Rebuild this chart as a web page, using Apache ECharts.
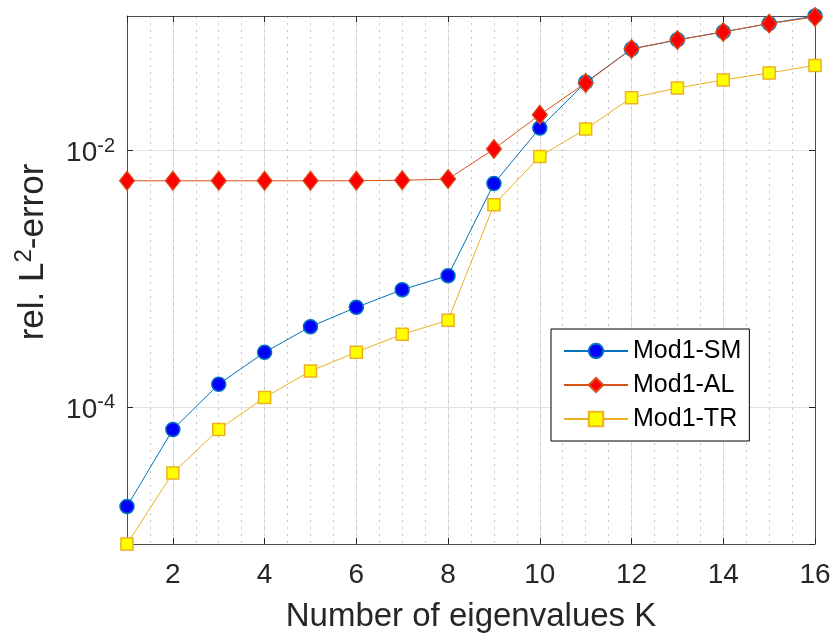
<!DOCTYPE html>
<html>
<head>
<meta charset="utf-8">
<script src="https://cdn.jsdelivr.net/npm/echarts@6/dist/echarts.min.js"></script>
<style>
  html, body { margin: 0; padding: 0; background: #fff; }
  #chart { width: 835px; height: 641px; }
</style>
</head>
<body>
<div id="chart"></div>
<script>
// Number of eigenvalues K
const kValues = [1, 2, 3, 4, 5, 6, 7, 8, 9, 10, 11, 12, 13, 14, 15, 16];

// Relative L2-errors per method
const errSM = [1.67e-5, 6.65e-5, 1.50e-4, 2.66e-4, 4.22e-4, 5.97e-4, 8.20e-4, 1.055e-3,
               5.52e-3, 0.01496, 0.0340, 0.0620, 0.0730, 0.0842, 0.0978, 0.1120];
const errAL = [0.00580, 0.00580, 0.00580, 0.00580, 0.00580, 0.00581, 0.00585, 0.00598,
               0.01026, 0.0190, 0.0336, 0.0619, 0.0728, 0.0841, 0.0977, 0.1100];
const errTR = [8.5e-6, 3.05e-5, 6.65e-5, 1.18e-4, 1.90e-4, 2.67e-4, 3.68e-4, 4.73e-4,
               3.77e-3, 8.98e-3, 0.01469, 0.0258, 0.0307, 0.0355, 0.0403, 0.0461];

const seriesNames = ['Mod1-SM', 'Mod1-AL', 'Mod1-TR'];
const yTickExponents = [-4, -2];

const FONT = '"Liberation Sans", Arial, Helvetica, sans-serif';
const AXIS_COLOR = '#4d4d4d';
const TEXT_COLOR = '#262626';

function pairs(ys) {
  return kValues.map((k, i) => [k, ys[i]]);
}

const supRich = {
  b: { fontSize: 28, lineHeight: 28, padding: [6, 0, 0, 0], color: TEXT_COLOR, fontFamily: FONT },
  s: { fontSize: 20, lineHeight: 20, verticalAlign: 'top', color: TEXT_COLOR, fontFamily: FONT }
};

const chart = echarts.init(document.getElementById('chart'), null, { renderer: 'canvas' });

chart.setOption({
  backgroundColor: '#ffffff',
  animation: false,
  grid: { left: 127, right: 20, top: 16, bottom: 97, containLabel: false },
  legend: {
    orient: 'vertical',
    left: 551,
    top: 329,
    data: seriesNames,
    backgroundColor: '#ffffff',
    borderColor: '#000000',
    borderWidth: 1,
    borderRadius: 0,
    padding: [9, 8, 9, 12],
    itemGap: 8,
    itemWidth: 64,
    itemHeight: 18,
    textStyle: { fontSize: 25, lineHeight: 26, color: '#000000', fontFamily: FONT }
  },
  xAxis: [
    {
      type: 'value',
      position: 'bottom',
      min: 1,
      max: 16,
      minInterval: 2,
      maxInterval: 2,
      splitNumber: 8,
      name: 'Number of eigenvalues K',
      nameLocation: 'middle',
      nameGap: 56,
      nameTextStyle: { fontSize: 33, color: TEXT_COLOR, fontFamily: FONT },
      axisLine: { show: true, onZero: false, lineStyle: { color: AXIS_COLOR, width: 1 } },
      axisTick: { show: true, inside: true, length: 6, lineStyle: { color: '#262626', width: 1 } },
      axisLabel: {
        show: true, showMinLabel: false, margin: 17,
        fontSize: 28, color: TEXT_COLOR, fontFamily: FONT
      },
      splitLine: { show: true, lineStyle: { color: '#e3e3e3', width: 1, type: 'solid' } }
    },
    {
      type: 'value',
      position: 'top',
      min: 1,
      max: 16,
      minInterval: 2,
      maxInterval: 2,
      splitNumber: 8,
      axisLine: { show: true, onZero: false, lineStyle: { color: AXIS_COLOR, width: 1 } },
      axisTick: { show: true, inside: true, length: 6, lineStyle: { color: '#262626', width: 1 } },
      axisLabel: { show: false },
      splitLine: { show: false }
    },
    {
      // minor dotted grid every half step
      type: 'value',
      position: 'bottom',
      min: 1,
      max: 16,
      minInterval: 0.5,
      maxInterval: 0.5,
      splitNumber: 30,
      axisLine: { show: false },
      axisTick: { show: false },
      axisLabel: { show: false },
      splitLine: { show: true, lineStyle: { color: '#c4c4c4', width: 1, type: [2, 5] } }
    }
  ],
  yAxis: [
    {
      type: 'log',
      logBase: 100,
      position: 'left',
      min: 8.5e-6,
      max: 0.112,
      name: '{t|rel. L}{s|2}{t|-error}',
      nameLocation: 'middle',
      nameGap: 80,
      nameTextStyle: {
        fontSize: 35, color: TEXT_COLOR, fontFamily: FONT,
        padding: [0, 0, 0, 56],
        rich: {
          t: { fontSize: 35, lineHeight: 35, padding: [7, 0, 0, 0], color: TEXT_COLOR, fontFamily: FONT },
          s: { fontSize: 24, lineHeight: 24, verticalAlign: 'top', color: TEXT_COLOR, fontFamily: FONT }
        }
      },
      axisLine: { show: true, onZero: false, lineStyle: { color: AXIS_COLOR, width: 1 } },
      axisTick: { show: true, inside: true, length: 6, lineStyle: { color: '#262626', width: 1 } },
      axisLabel: {
        show: true, showMinLabel: false, showMaxLabel: false, margin: 12,
        formatter: function (v) {
          const e = Math.round(Math.log10(v));
          if (yTickExponents.indexOf(e) < 0) return '';
          return '{b|10}{s|' + e + '}';
        },
        rich: supRich
      },
      splitLine: { show: true, lineStyle: { color: '#e3e3e3', width: 1 } }
    },
    {
      type: 'log',
      logBase: 100,
      position: 'right',
      min: 8.5e-6,
      max: 0.112,
      axisLine: { show: true, onZero: false, lineStyle: { color: AXIS_COLOR, width: 1 } },
      axisTick: { show: true, inside: true, length: 6, lineStyle: { color: '#262626', width: 1 } },
      axisLabel: { show: false },
      splitLine: { show: false }
    }
  ],
  series: [
    {
      name: seriesNames[0],
      type: 'line',
      xAxisIndex: 0,
      yAxisIndex: 0,
      data: pairs(errSM),
      clip: false,
      symbol: 'circle',
      symbolSize: 14,
      lineStyle: { color: '#0072BD', width: 1 },
      itemStyle: { color: '#0000FF', borderColor: '#0072BD', borderWidth: 1.5 }
    },
    {
      name: seriesNames[1],
      type: 'line',
      xAxisIndex: 0,
      yAxisIndex: 0,
      data: pairs(errAL),
      clip: false,
      symbol: 'diamond',
      symbolSize: [15, 19],
      lineStyle: { color: '#D95319', width: 1 },
      itemStyle: { color: '#FF0000', borderColor: '#D95319', borderWidth: 1.2 }
    },
    {
      name: seriesNames[2],
      type: 'line',
      xAxisIndex: 0,
      yAxisIndex: 0,
      data: pairs(errTR),
      clip: false,
      symbol: 'rect',
      symbolSize: 12,
      lineStyle: { color: '#EDB120', width: 1 },
      itemStyle: { color: '#FFFF00', borderColor: '#EDB120', borderWidth: 1.5 }
    }
  ]
});
</script>
</body>
</html>
